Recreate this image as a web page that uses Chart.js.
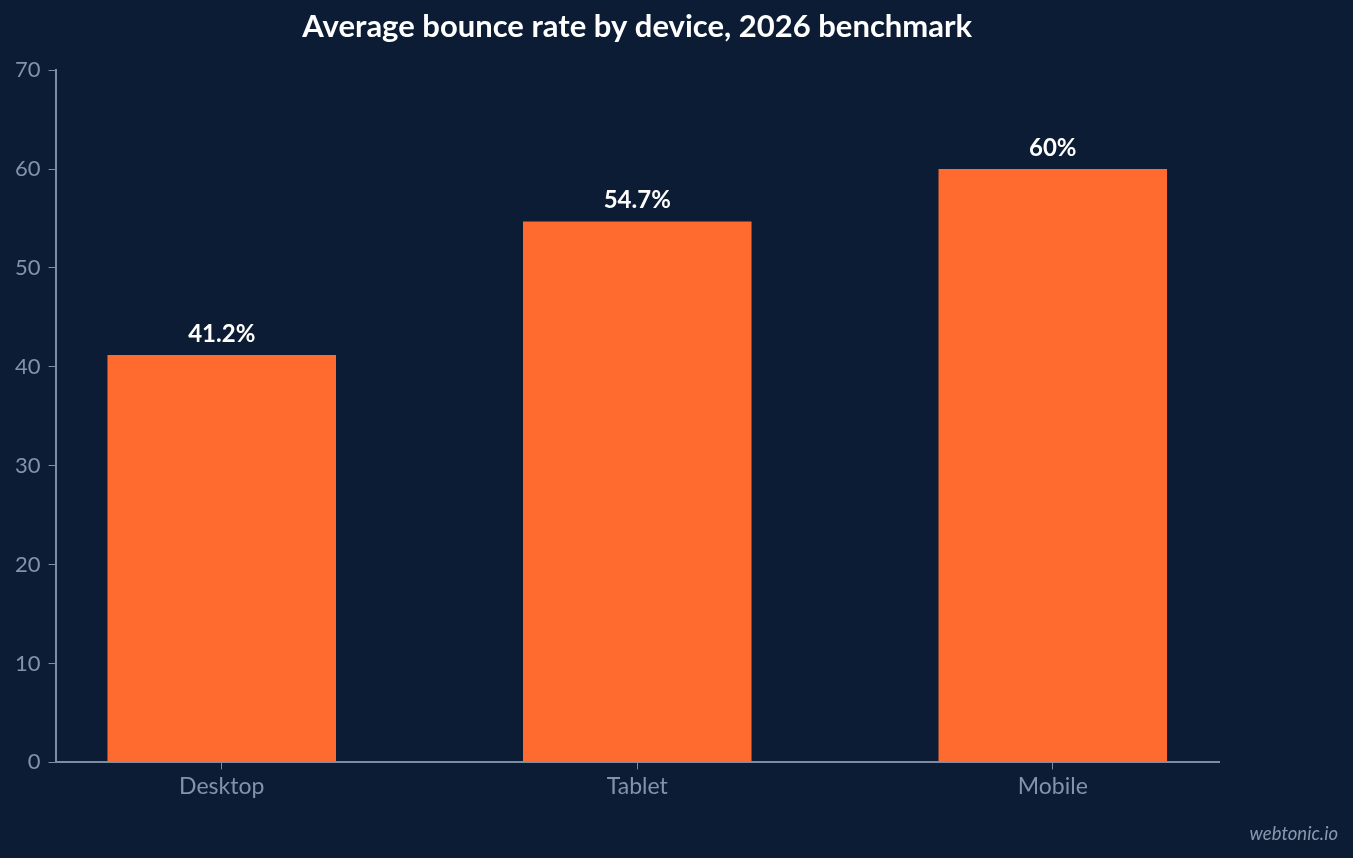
<!DOCTYPE html>
<html>
<head>
<meta charset="utf-8">
<script src="https://cdn.jsdelivr.net/npm/chart.js@4/dist/chart.umd.min.js"></script>
<style>
  html, body { margin: 0; padding: 0; background: #0c1c34; }
  #wrap { width: 1353px; height: 858px; position: relative; }
</style>
</head>
<body>
<div id="wrap"><canvas id="bounceChart"></canvas></div>
<script>
const devices = ['Desktop', 'Tablet', 'Mobile'];
const bounceRates = [41.2, 54.7, 60];
const yTicks = [0, 10, 20, 30, 40, 50, 60, 70];

const tickColor = '#8493aa';
const axisColor = '#7d8ca4';

// value labels above each bar
const barLabels = {
  id: 'barLabels',
  afterDatasetsDraw(chart) {
    const ctx = chart.ctx;
    const meta = chart.getDatasetMeta(0);
    ctx.save();
    ctx.fillStyle = '#ffffff';
    ctx.font = 'bold 24px Lato';
    ctx.textAlign = 'center';
    ctx.textBaseline = 'bottom';
    meta.data.forEach((bar, i) => {
      ctx.fillText(bounceRates[i] + '%', bar.x, bar.y - 9);
    });
    ctx.restore();
  }
};

// little site tag bottom right
const watermark = {
  id: 'watermark',
  afterDraw(chart) {
    const ctx = chart.ctx;
    ctx.save();
    ctx.fillStyle = '#8a98ad';
    ctx.font = 'italic 18.5px Lato';
    ctx.textAlign = 'right';
    ctx.textBaseline = 'alphabetic';
    ctx.fillText('webtonic.io', chart.width - 15, 840);
    ctx.restore();
  }
};

const ctx = document.getElementById('bounceChart').getContext('2d');
new Chart(ctx, {
  type: 'bar',
  data: {
    datasets: [{
      data: devices.map((d, i) => ({ x: i, y: bounceRates[i] })),
      backgroundColor: '#ff6b2f',
      borderWidth: 0,
      barPercentage: 0.55,
      categoryPercentage: 1.0
    }]
  },
  plugins: [barLabels, watermark],
  options: {
    responsive: true,
    maintainAspectRatio: false,
    animation: false,
    layout: {
      padding: { left: 7, right: 134, top: 8, bottom: 55 }
    },
    plugins: {
      legend: { display: false },
      tooltip: { enabled: false },
      title: {
        display: true,
        fullSize: false,
        text: 'Average bounce rate by device, 2026 benchmark',
        color: '#ffffff',
        font: { family: 'Lato', size: 31, weight: 'bold' },
        padding: { top: 0, bottom: 25 }
      }
    },
    scales: {
      x: {
        type: 'linear',
        offset: false,
        min: -0.4,
        max: 2.4,
        afterBuildTicks(axis) {
          axis.ticks = devices.map((d, i) => ({ value: i }));
        },
        grid: {
          display: true,
          offset: false,
          drawOnChartArea: false,
          drawTicks: true,
          tickLength: 7,
          color: axisColor
        },
        border: { color: axisColor, width: 2 },
        ticks: {
          color: tickColor,
          font: { family: 'Lato', size: 23 },
          padding: 3,
          callback: (v) => devices[v]
        }
      },
      y: {
        min: 0,
        max: 70,
        afterBuildTicks(axis) {
          axis.ticks = yTicks.map(v => ({ value: v }));
        },
        grid: {
          display: true,
          drawOnChartArea: false,
          drawTicks: true,
          tickLength: 7,
          color: axisColor
        },
        border: { color: axisColor, width: 2 },
        ticks: {
          color: tickColor,
          font: { family: 'Lato', size: 22 },
          padding: 8
        }
      }
    }
  }
});
</script>
</body>
</html>
